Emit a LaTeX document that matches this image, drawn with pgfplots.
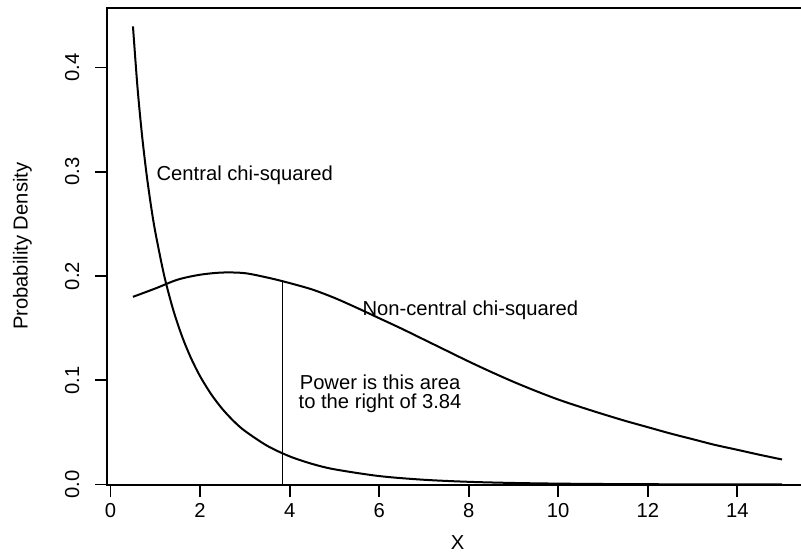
\documentclass[border=0pt]{standalone}
\usepackage{fontspec}
\setmainfont{Liberation Sans}
\usepackage{pgfplots}
\pgfplotsset{compat=1.18}
\newcommand{\fs}{\fontsize{10.1}{12}\selectfont}

\begin{document}
\begin{tikzpicture}
\begin{axis}[
  scale only axis,
  width=350.5pt, height=238.25pt,
  xmin=-0.08, xmax=15.58,
  ymin=0, ymax=0.457,
  axis line style={line width=1pt},
  tick align=outside,
  major tick length=6pt,
  every tick/.style={black, line width=0.9pt},
  xtick={0,2,4,6,8,10,12,14},
  xticklabels={0,2,4,6,8,10,12,14},
  ytick={0,0.1,0.2,0.3,0.4},
  yticklabels={0.0,0.1,0.2,0.3,0.4},
  xtick pos=left, ytick pos=left,
  xticklabel style={font=\fs, anchor=north, inner sep=0pt, yshift=-3.4pt},
  yticklabel style={font=\fs, xshift=-7.9pt, rotate=90, anchor=base, inner sep=0pt},
  clip=false,
]
% central chi-squared, 1 df
\addplot[smooth, line width=1pt] coordinates {
  (0.5,0.4394)(0.6,0.3815)(0.7,0.3360)(0.8,0.2990)(0.9,0.2681)(1.0,0.2420)
  (1.2,0.1999)(1.4,0.1674)(1.6,0.1417)(1.8,0.1209)(2.0,0.1038)(2.25,0.0864)
  (2.5,0.0723)(2.75,0.0608)(3.0,0.0514)(3.5,0.0371)(4.0,0.0270)(4.5,0.0198)
  (5,0.0146)(6,0.0081)(7,0.00455)(8,0.00258)(9,0.00148)(10,0.00085)
  (11,0.00049)(12,0.000285)(13,0.000166)(14,0.000097)(15,0.000057)};
% non-central chi-squared
\addplot[smooth, line width=1pt] coordinates {
  (0.5,0.180)(1.0,0.188)(1.5,0.1965)(2.0,0.2012)(2.5,0.2033)(3.0,0.2027)
  (3.5,0.1985)(3.84,0.195)(4.0,0.1932)(4.5,0.1871)(5.0,0.179)(5.5,0.1695)
  (6,0.1595)(6.5,0.1495)(7,0.139)(7.5,0.1285)(8,0.118)(8.5,0.108)(9,0.0985)
  (9.5,0.0897)(10,0.0815)(10.5,0.0743)(11,0.0675)(11.5,0.061)(12,0.055)
  (12.5,0.049)(13,0.0435)(13.5,0.038)(14,0.0333)(14.5,0.0285)(15,0.024)};
% critical value
\addplot[line width=0.8pt] coordinates {(3.84,0) (3.84,0.195)};

\node[anchor=base west, inner sep=0pt, font=\fs] at (axis cs:1.02,0.292) {Central chi-squared};
\node[anchor=base west, inner sep=0pt, font=\fs] at (axis cs:5.62,0.1625) {Non-central chi-squared};
\node[anchor=base, inner sep=0pt, font=\fs] at (axis cs:6.02,0.0915) {Power is this area};
\node[anchor=base, inner sep=0pt, font=\fs] at (axis cs:6.02,0.0726) {to the right of 3.84};

\node[font=\fs] at ([yshift=-29pt]rel axis cs:0.5,0) {X};
\node[font=\fs, rotate=90] at ([xshift=-42.25pt]rel axis cs:0,0.5) {Probability Density};

\coordinate (sw) at (rel axis cs:0,0);
\coordinate (ne) at (rel axis cs:1,1);
\end{axis}
\pgfresetboundingbox
\path[use as bounding box] ([xshift=-53.5pt,yshift=-36.75pt]sw) rectangle ([xshift=-3.5pt,yshift=4pt]ne);
\end{tikzpicture}
\end{document}
